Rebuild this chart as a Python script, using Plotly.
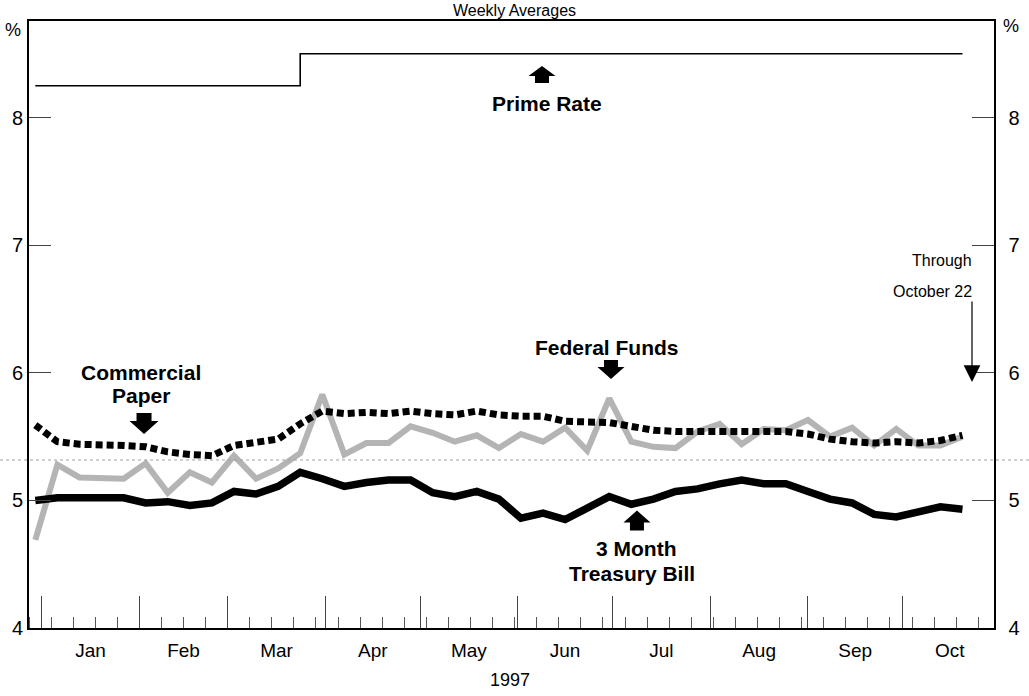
import pandas as pd
import plotly.graph_objects as go

# ---- data (weekly averages, weeks ending Wednesday, 1997) ----
weeks = pd.date_range("1997-01-01", "1997-10-22", freq="7D")

prime_rate = [8.25] * 12 + [8.50] * 31

commercial_paper = [5.59, 5.46, 5.44, 5.44, 5.43, 5.42, 5.38, 5.36, 5.35, 5.43,
                    5.45, 5.48, 5.60, 5.70, 5.68, 5.69, 5.68, 5.70, 5.68, 5.67,
                    5.70, 5.67, 5.66, 5.66, 5.62, 5.61, 5.61, 5.58, 5.55, 5.54,
                    5.54, 5.55, 5.55, 5.55, 5.54, 5.52, 5.48, 5.46, 5.45, 5.46,
                    5.45, 5.47, 5.51]

federal_funds = [4.69, 5.28, 5.18, 5.17, 5.17, 5.29, 5.06, 5.22, 5.14, 5.35,
                 5.17, 5.25, 5.37, 5.83, 5.36, 5.45, 5.45, 5.58, 5.53, 5.46,
                 5.51, 5.41, 5.52, 5.46, 5.57, 5.39, 5.80, 5.46, 5.42, 5.41,
                 5.54, 5.60, 5.44, 5.56, 5.55, 5.63, 5.50, 5.57, 5.43, 5.56,
                 5.43, 5.43, 5.50]

treasury_bill = [5.00, 5.02, 5.02, 5.02, 5.02, 4.98, 4.99, 4.96, 4.98, 5.07,
                 5.05, 5.11, 5.22, 5.17, 5.11, 5.14, 5.16, 5.16, 5.06, 5.03,
                 5.07, 5.01, 4.86, 4.90, 4.85, 4.94, 5.03, 4.97, 5.01, 5.07,
                 5.09, 5.13, 5.16, 5.13, 5.13, 5.07, 5.01, 4.98, 4.89, 4.87,
                 4.91, 4.95, 4.93]

y_ticks = [4, 5, 6, 7, 8]
y_range = [4, 8.757]
x_range = ["1996-12-30", "1997-11-01"]

FONT = "Liberation Sans, Arial, Helvetica, sans-serif"

fig = go.Figure()

fig.add_trace(go.Scatter(x=weeks, y=federal_funds, mode="lines",
                         line=dict(color="#b4b4b4", width=6), name="Federal Funds"))
fig.add_trace(go.Scatter(x=weeks, y=commercial_paper, mode="lines",
                         line=dict(color="black", width=7, dash="7px,4px"),
                         name="Commercial Paper"))
fig.add_trace(go.Scatter(x=weeks, y=treasury_bill, mode="lines",
                         line=dict(color="black", width=7.5), name="3 Month Treasury Bill"))
fig.add_trace(go.Scatter(x=weeks, y=prime_rate, mode="lines", line_shape="hv",
                         line=dict(color="black", width=1.6), name="Prime Rate",
                         yaxis="y2"))

ann = []
shapes = []


def text(t, x, y, size, bold=False, xanchor="center", yanchor="middle", align="center"):
    ann.append(dict(text=f"<b>{t}</b>" if bold else t, x=x, y=y, xref="paper", yref="paper",
                    xanchor=xanchor, yanchor=yanchor, align=align, showarrow=False,
                    font=dict(family=FONT, size=size, color="black")))


def block_arrow(x, y, direction, w=28, stem=15, head=13, total=20):
    # house-shaped block arrow; tip at (x, y) in paper coords, sizes in pixels
    s = 1 if direction == "down" else -1
    hw, sw = w / 2, stem / 2
    pts = [(-sw, s * total), (sw, s * total), (sw, s * head), (hw, s * head),
           (0, 0), (-hw, s * head), (-sw, s * head)]
    path = "M " + " L ".join(f"{px},{py}" for px, py in pts) + " Z"
    shapes.append(dict(type="path", xref="paper", yref="paper",
                       xsizemode="pixel", ysizemode="pixel", xanchor=x, yanchor=y,
                       path=path, fillcolor="black", line=dict(width=0)))


text("Weekly Averages", 0.503, 1.0346, 16, yanchor="top")
text("%", -0.0166, 0.985, 18)
text("%", 1.0176, 0.9918, 18)
text("Prime Rate", 0.5368, 0.8646, 21, bold=True)
block_arrow(0.5316, 0.9259, "up", w=27, stem=14, head=10, total=17)
text("Commercial", 0.116, 0.4213, 21, bold=True)
text("Paper", 0.116, 0.3834, 21, bold=True)
block_arrow(0.1192, 0.3196, "down", w=29, stem=15, head=13, total=21)
text("Federal Funds", 0.5994, 0.4629, 21, bold=True)
block_arrow(0.6031, 0.4102, "down", w=27, stem=14, head=12, total=19)
text("3 Month", 0.6287, 0.1311, 21, bold=True)
text("Treasury Bill", 0.6249, 0.0898, 21, bold=True)
block_arrow(0.630, 0.1937, "up", w=27, stem=14, head=12, total=20)
text("Through", 0.979, 0.606, 16, xanchor="right")
text("October 22", 0.979, 0.555, 16, xanchor="right")
ann.append(dict(text="", x=0.9772, y=0.4053, xref="paper", yref="paper", ax=0, ay=-82,
                showarrow=True, arrowhead=2, arrowwidth=1.2, arrowsize=2.8,
                arrowcolor="black", standoff=0))
text("1997", 0.4984, -0.0857, 18)

shapes.append(dict(type="line", xref="paper", yref="paper", x0=-0.03, x1=1.037,
                   y0=0.2768, y1=0.2768, line=dict(color="#a0a0a0", width=1, dash="dot")))

fig.update_layout(
    width=1029, height=696,
    margin=dict(l=29, r=35, t=21, b=68, autoexpand=False),
    paper_bgcolor="white", plot_bgcolor="white",
    showlegend=False,
    hovermode=False,
    font=dict(family=FONT, color="black"),
    annotations=ann,
    shapes=shapes,
    xaxis=dict(
        type="date", range=x_range, showgrid=False, zeroline=False, automargin=False,
        showline=True, linecolor="black", linewidth=1.6, mirror=True,
        ticks="inside", ticklen=32, tickwidth=1, tickcolor="#444",
        dtick="M1", tick0="1997-01-03", tickformat="%b", ticklabelmode="period",
        ticklabelstandoff=5,
        tickfont=dict(family=FONT, size=19, color="black"),
        minor=dict(ticks="inside", ticklen=11, tickwidth=1, tickcolor="#555",
                   dtick=7 * 86400000, tick0="1997-01-06", showgrid=False),
    ),
    yaxis=dict(
        range=y_range, tickvals=y_ticks, showgrid=False, zeroline=False, automargin=False,
        showline=True, linecolor="black", linewidth=1.8,
        ticks="inside", ticklen=22, tickwidth=1, tickcolor="#444",
        tickfont=dict(family=FONT, size=20, color="black"),
    ),
    yaxis2=dict(
        range=y_range, tickvals=y_ticks, overlaying="y", side="right",
        showgrid=False, zeroline=False, automargin=False,
        showline=True, linecolor="black", linewidth=1.6,
        ticks="inside", ticklen=22, tickwidth=1, tickcolor="#444",
        ticklabelstandoff=9,
        tickfont=dict(family=FONT, size=20, color="black"),
    ),
)

fig.write_html("out.html",
               config={"displayModeBar": False, "staticPlot": True},
               post_script="document.body.style.margin='0';document.body.style.overflow='hidden';")
